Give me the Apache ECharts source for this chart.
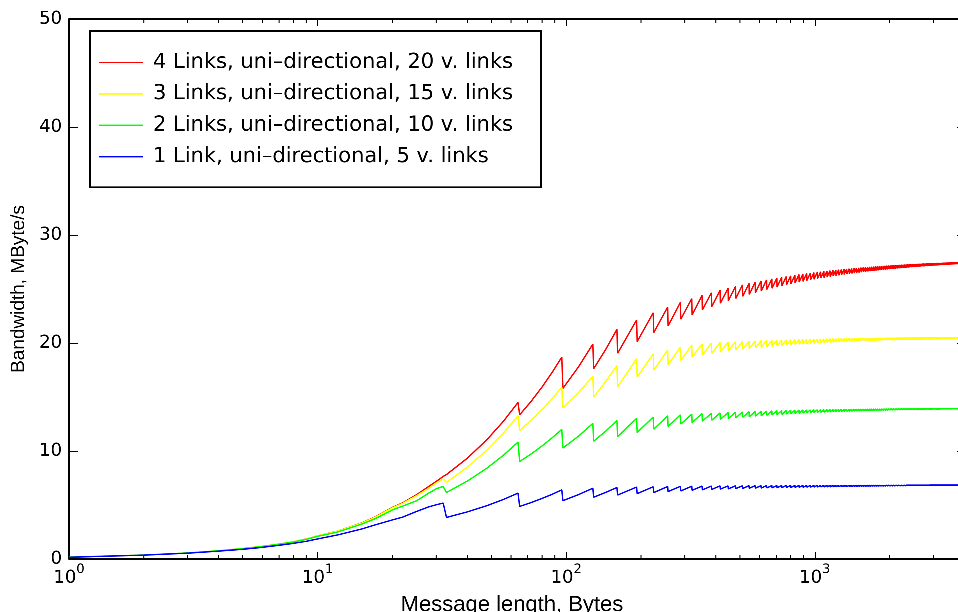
<!DOCTYPE html>
<html lang="en">
<head>
    <meta charset="UTF-8">
    <title>Bandwidth vs message length</title>
    <script type="text/javascript">
        // zrender drops line segments shorter than 2 device pixels; a higher ratio keeps the fine sawtooth
        try { window.devicePixelRatio = 4; } catch (e) {}
    </script>
    <script type="text/javascript" src="https://cdn.jsdelivr.net/npm/echarts/dist/echarts.min.js"></script>
    <style>
        body { margin: 0; background: #fff; }
        #main { width: 958px; height: 612px; }
    </style>
</head>
<body>
<div id="main"></div>
<script type="text/javascript">
    var names = [
        '4 Links, uni\u2013directional, 20 v. links',
        '3 Links, uni\u2013directional, 15 v. links',
        '2 Links, uni\u2013directional, 10 v. links',
        '1 Link, uni\u2013directional, 5 v. links'
    ];
    var colors = ['#ff0000', '#ffff00', '#00ff00', '#0000ff'];

    // smooth part before the first packet boundary
    var earlyX = [1, 2, 3, 4, 5, 6, 7, 8, 9, 10, 12, 15, 17, 20, 22, 25, 28, 30];
    var earlyRed    = [0.17, 0.37, 0.56, 0.77, 0.97, 1.18, 1.39, 1.61, 1.85, 2.15, 2.57, 3.33, 3.88, 4.78, 5.20, 5.95, 6.72, 7.18];
    var earlyYellow = [0.17, 0.37, 0.56, 0.77, 0.97, 1.18, 1.39, 1.61, 1.84, 2.14, 2.56, 3.31, 3.85, 4.74, 5.15, 5.86, 6.56, 7.05];
    var earlyGreen  = [0.17, 0.37, 0.56, 0.76, 0.96, 1.16, 1.37, 1.58, 1.81, 2.10, 2.49, 3.22, 3.72, 4.55, 4.90, 5.39, 6.10, 6.50];
    var earlyBlue   = [0.16, 0.36, 0.54, 0.73, 0.90, 1.08, 1.27, 1.45, 1.64, 1.86, 2.22, 2.77, 3.15, 3.62, 3.88, 4.40, 4.83, 5.02];

    // points inside the first big teeth
    var midX = [40, 48, 56, 72, 80, 88, 112, 144];
    var midRed    = [9.33, 11.05, 12.77, 14.55, 15.93, 17.31, 17.78, 19.38];
    var midYellow = [8.49, 10.08, 11.67, 12.80, 13.84, 14.87, 15.40, 16.40];
    var midGreen  = [7.21, 8.41, 9.62, 9.70, 10.47, 11.24, 11.37, 11.83];
    var midBlue   = [4.36, 4.94, 5.52, 5.21, 5.61, 6.00, 5.96, 6.16];

    // packet boundaries: peak at x, drop at x + 1
    var toothX = [32, 64, 96, 128, 160, 192, 224, 256, 288, 320, 352, 384, 416, 448, 480, 512, 544, 576, 608, 640,
        672, 704, 736, 768, 800, 832, 864, 896, 928, 960, 992, 1024, 1056, 1088, 1120, 1152, 1184, 1216, 1248, 1280,
        1312, 1344, 1376, 1408, 1440, 1472, 1504, 1536, 1568, 1600, 1632, 1664, 1696, 1728, 1760, 1792, 1824, 1856, 1888, 1920,
        1952, 1984, 2016, 2048, 2080, 2112, 2144, 2176, 2208, 2240, 2272, 2304, 2336, 2368, 2400, 2432, 2464, 2496, 2528, 2560,
        2592, 2624, 2656, 2688, 2720, 2752, 2784, 2816, 2848, 2880, 2912, 2944, 2976, 3008, 3040, 3072, 3104, 3136, 3168, 3200,
        3232, 3264, 3296, 3328, 3360, 3392, 3424, 3456, 3488, 3520, 3552, 3584, 3616, 3648, 3680, 3712, 3744, 3776, 3808, 3840];

    var peakRed = [7.64, 14.49, 18.69, 19.90, 21.26, 22.13, 22.80, 23.33, 23.76, 24.11,
        24.41, 24.66, 24.88, 25.07, 25.24, 25.39, 25.52, 25.64, 25.75, 25.85,
        25.94, 26.02, 26.09, 26.16, 26.22, 26.28, 26.34, 26.39, 26.44, 26.48,
        26.52, 26.56, 26.60, 26.64, 26.67, 26.70, 26.73, 26.76, 26.79, 26.81,
        26.84, 26.86, 26.88, 26.90, 26.92, 26.94, 26.96, 26.98, 27.00, 27.01,
        27.03, 27.05, 27.06, 27.07, 27.09, 27.10, 27.11, 27.13, 27.14, 27.15,
        27.16, 27.17, 27.18, 27.19, 27.20, 27.21, 27.22, 27.23, 27.24, 27.25,
        27.25, 27.26, 27.27, 27.28, 27.29, 27.29, 27.30, 27.31, 27.31, 27.32,
        27.33, 27.33, 27.34, 27.34, 27.35, 27.36, 27.36, 27.37, 27.37, 27.38,
        27.38, 27.39, 27.39, 27.40, 27.40, 27.41, 27.41, 27.42, 27.42, 27.42,
        27.43, 27.43, 27.44, 27.44, 27.44, 27.45, 27.45, 27.45, 27.46, 27.46,
        27.46, 27.47, 27.47, 27.47, 27.48, 27.48, 27.48, 27.49, 27.49, 27.49];
    var dropRed = [7.82, 13.35, 15.80, 17.62, 19.05, 20.13, 20.96, 21.58, 22.20, 22.60,
        23.06, 23.37, 23.68, 23.92, 24.12, 24.32, 24.50, 24.66, 24.81, 24.95,
        25.07, 25.18, 25.29, 25.38, 25.47, 25.56, 25.64, 25.71, 25.78, 25.84,
        25.90, 25.96, 26.01, 26.06, 26.11, 26.15, 26.20, 26.24, 26.27, 26.31,
        26.35, 26.38, 26.41, 26.44, 26.47, 26.50, 26.53, 26.56, 26.58, 26.61,
        26.63, 26.65, 26.67, 26.69, 26.71, 26.73, 26.75, 26.77, 26.79, 26.80,
        26.82, 26.84, 26.85, 26.87, 26.88, 26.89, 26.91, 26.92, 26.93, 26.95,
        26.96, 26.97, 26.98, 26.99, 27.01, 27.02, 27.03, 27.04, 27.05, 27.06,
        27.07, 27.08, 27.09, 27.10, 27.10, 27.11, 27.12, 27.13, 27.14, 27.14,
        27.15, 27.16, 27.17, 27.17, 27.18, 27.19, 27.19, 27.20, 27.21, 27.21,
        27.22, 27.22, 27.23, 27.23, 27.24, 27.25, 27.25, 27.26, 27.26, 27.27,
        27.27, 27.28, 27.28, 27.29, 27.29, 27.30, 27.30, 27.30, 27.31, 27.31];

    var peakYellow = [7.40, 13.26, 15.90, 16.90, 17.90, 18.55, 19.00, 19.35, 19.62, 19.82,
        19.92, 20.00, 20.05, 20.09, 20.12, 20.15, 20.17, 20.20, 20.22, 20.23,
        20.25, 20.27, 20.28, 20.29, 20.31, 20.32, 20.33, 20.34, 20.35, 20.35,
        20.36, 20.37, 20.38, 20.38, 20.39, 20.40, 20.40, 20.41, 20.41, 20.42,
        20.42, 20.43, 20.43, 20.44, 20.44, 20.44, 20.45, 20.45, 20.45, 20.46,
        20.46, 20.46, 20.46, 20.47, 20.47, 20.47, 20.47, 20.48, 20.48, 20.48,
        20.49, 20.49, 20.49, 20.49, 20.49, 20.49, 20.50, 20.50, 20.50, 20.50,
        20.50, 20.50, 20.51, 20.51, 20.51, 20.51, 20.51, 20.51, 20.51, 20.52,
        20.52, 20.52, 20.52, 20.52, 20.52, 20.52, 20.53, 20.53, 20.53, 20.53,
        20.53, 20.53, 20.53, 20.53, 20.53, 20.53, 20.53, 20.53, 20.53, 20.53,
        20.54, 20.54, 20.54, 20.54, 20.54, 20.54, 20.54, 20.54, 20.54, 20.54,
        20.55, 20.55, 20.55, 20.55, 20.55, 20.55, 20.55, 20.55, 20.55, 20.55];
    var dropYellow = [7.10, 11.90, 14.00, 15.00, 15.95, 16.84, 17.48, 17.98, 18.38, 18.69,
        18.88, 19.04, 19.16, 19.26, 19.34, 19.42, 19.48, 19.55, 19.60, 19.64,
        19.69, 19.73, 19.76, 19.79, 19.83, 19.86, 19.89, 19.91, 19.94, 19.95,
        19.97, 19.99, 20.01, 20.03, 20.05, 20.07, 20.07, 20.09, 20.10, 20.12,
        20.12, 20.14, 20.15, 20.16, 20.17, 20.18, 20.19, 20.20, 20.20, 20.21,
        20.21, 20.22, 20.22, 20.23, 20.23, 20.24, 20.24, 20.25, 20.25, 20.26,
        20.26, 20.26, 20.27, 20.27, 20.27, 20.28, 20.28, 20.28, 20.29, 20.29,
        20.29, 20.29, 20.30, 20.30, 20.30, 20.30, 20.31, 20.31, 20.31, 20.31,
        20.31, 20.32, 20.32, 20.32, 20.32, 20.32, 20.33, 20.33, 20.33, 20.33,
        20.33, 20.33, 20.33, 20.34, 20.34, 20.34, 20.34, 20.34, 20.34, 20.34,
        20.35, 20.35, 20.35, 20.35, 20.35, 20.35, 20.35, 20.35, 20.35, 20.35,
        20.36, 20.36, 20.36, 20.36, 20.36, 20.36, 20.36, 20.36, 20.36, 20.36];

    var peakGreen = [6.72, 10.82, 12.00, 12.55, 12.82, 13.02, 13.15, 13.26, 13.35, 13.41,
        13.46, 13.50, 13.53, 13.56, 13.59, 13.62, 13.64, 13.66, 13.68, 13.70,
        13.72, 13.73, 13.74, 13.75, 13.77, 13.78, 13.79, 13.80, 13.80, 13.81,
        13.82, 13.82, 13.83, 13.83, 13.84, 13.84, 13.85, 13.85, 13.86, 13.86,
        13.86, 13.87, 13.87, 13.87, 13.88, 13.88, 13.88, 13.88, 13.89, 13.89,
        13.89, 13.89, 13.90, 13.90, 13.90, 13.90, 13.90, 13.91, 13.91, 13.91,
        13.91, 13.91, 13.92, 13.92, 13.92, 13.92, 13.92, 13.92, 13.93, 13.93,
        13.93, 13.93, 13.93, 13.93, 13.93, 13.93, 13.93, 13.93, 13.93, 13.93,
        13.94, 13.94, 13.94, 13.94, 13.94, 13.94, 13.94, 13.94, 13.94, 13.94,
        13.94, 13.94, 13.94, 13.94, 13.94, 13.94, 13.94, 13.94, 13.94, 13.94,
        13.95, 13.95, 13.95, 13.95, 13.95, 13.95, 13.95, 13.95, 13.95, 13.95,
        13.95, 13.95, 13.95, 13.95, 13.95, 13.95, 13.95, 13.95, 13.95, 13.95];
    var dropGreen = [6.16, 9.03, 10.27, 10.90, 11.34, 11.71, 12.02, 12.27, 12.49, 12.64,
        12.76, 12.85, 12.93, 13.00, 13.06, 13.12, 13.17, 13.22, 13.26, 13.30,
        13.34, 13.36, 13.39, 13.41, 13.45, 13.47, 13.49, 13.51, 13.52, 13.54,
        13.56, 13.56, 13.58, 13.59, 13.61, 13.61, 13.63, 13.63, 13.65, 13.65,
        13.66, 13.67, 13.68, 13.68, 13.70, 13.70, 13.70, 13.71, 13.72, 13.72,
        13.73, 13.73, 13.74, 13.74, 13.75, 13.75, 13.75, 13.76, 13.77, 13.77,
        13.77, 13.78, 13.79, 13.79, 13.79, 13.79, 13.80, 13.80, 13.81, 13.81,
        13.81, 13.81, 13.82, 13.82, 13.82, 13.82, 13.82, 13.82, 13.83, 13.83,
        13.84, 13.84, 13.84, 13.84, 13.84, 13.85, 13.85, 13.85, 13.85, 13.85,
        13.85, 13.85, 13.85, 13.86, 13.86, 13.86, 13.86, 13.86, 13.86, 13.86,
        13.87, 13.87, 13.87, 13.87, 13.87, 13.87, 13.87, 13.87, 13.87, 13.87,
        13.88, 13.88, 13.88, 13.88, 13.88, 13.88, 13.88, 13.88, 13.88, 13.88];

    var peakBlue = [5.18, 6.10, 6.40, 6.55, 6.62, 6.66, 6.69, 6.71, 6.73, 6.74,
        6.75, 6.76, 6.77, 6.77, 6.78, 6.78, 6.79, 6.79, 6.79, 6.80,
        6.80, 6.80, 6.80, 6.81, 6.81, 6.81, 6.81, 6.81, 6.81, 6.81,
        6.82, 6.82, 6.82, 6.82, 6.82, 6.82, 6.82, 6.82, 6.82, 6.82,
        6.82, 6.82, 6.82, 6.82, 6.82, 6.83, 6.83, 6.83, 6.83, 6.83,
        6.83, 6.83, 6.83, 6.83, 6.83, 6.83, 6.83, 6.83, 6.83, 6.83,
        6.84, 6.84, 6.84, 6.84, 6.84, 6.84, 6.84, 6.84, 6.84, 6.84,
        6.84, 6.84, 6.84, 6.84, 6.84, 6.84, 6.84, 6.84, 6.84, 6.84,
        6.84, 6.84, 6.84, 6.84, 6.84, 6.84, 6.84, 6.84, 6.84, 6.84,
        6.85, 6.85, 6.85, 6.85, 6.85, 6.85, 6.85, 6.85, 6.85, 6.85,
        6.85, 6.85, 6.85, 6.85, 6.85, 6.85, 6.85, 6.85, 6.85, 6.85,
        6.85, 6.85, 6.85, 6.85, 6.85, 6.85, 6.85, 6.85, 6.85, 6.85];
    var dropBlue = [3.85, 4.87, 5.40, 5.72, 5.92, 6.05, 6.15, 6.24, 6.30, 6.36,
        6.40, 6.44, 6.47, 6.49, 6.52, 6.53, 6.55, 6.56, 6.57, 6.58,
        6.59, 6.60, 6.61, 6.62, 6.62, 6.63, 6.64, 6.64, 6.65, 6.65,
        6.66, 6.66, 6.67, 6.67, 6.68, 6.68, 6.69, 6.69, 6.69, 6.70,
        6.70, 6.70, 6.71, 6.71, 6.71, 6.72, 6.72, 6.72, 6.73, 6.73,
        6.73, 6.73, 6.74, 6.74, 6.74, 6.74, 6.75, 6.75, 6.75, 6.75,
        6.76, 6.76, 6.76, 6.76, 6.76, 6.77, 6.77, 6.77, 6.77, 6.77,
        6.77, 6.77, 6.78, 6.78, 6.78, 6.78, 6.78, 6.78, 6.78, 6.78,
        6.79, 6.79, 6.79, 6.79, 6.79, 6.79, 6.79, 6.79, 6.79, 6.79,
        6.80, 6.80, 6.80, 6.80, 6.80, 6.80, 6.80, 6.80, 6.80, 6.80,
        6.81, 6.81, 6.81, 6.81, 6.81, 6.81, 6.81, 6.81, 6.81, 6.81,
        6.81, 6.81, 6.81, 6.81, 6.81, 6.81, 6.81, 6.81, 6.81, 6.81];

    var minorTicks = [2, 3, 4, 5, 6, 7, 8, 9, 20, 30, 40, 50, 60, 70, 80, 90,
        200, 300, 400, 500, 600, 700, 800, 900, 2000, 3000, 4000];

    function buildLine(early, mid, peaks, drops) {
        var pts = [];
        earlyX.forEach(function (x, i) { pts.push([x, early[i]]); });
        midX.forEach(function (x, i) { pts.push([x, mid[i]]); });
        toothX.forEach(function (x, i) {
            pts.push([x, peaks[i]]);
            pts.push([x + 1, drops[i]]);
        });
        return pts.sort(function (a, b) { return a[0] - b[0]; });
    }

    var lines = [
        buildLine(earlyRed, midRed, peakRed, dropRed),
        buildLine(earlyYellow, midYellow, peakYellow, dropYellow),
        buildLine(earlyGreen, midGreen, peakGreen, dropGreen),
        buildLine(earlyBlue, midBlue, peakBlue, dropBlue)
    ];

    var axisColor = '#000';
    var tickFont = 'DejaVu Sans';

    var series = lines.map(function (d, i) {
        return {
            name: names[i],
            type: 'line',
            data: d,
            showSymbol: false,
            symbol: 'none',
            color: colors[i],
            itemStyle: {color: colors[i]},
            lineStyle: {color: colors[i], width: 1.4},
            animation: false
        };
    });

    // minor ticks of the log axis, on the bottom and top edges
    series.push({
        type: 'custom',
        silent: true,
        animation: false,
        data: minorTicks.map(function (v) { return [v, 0]; }),
        renderItem: function (params, api) {
            var b = api.coord([api.value(0), 0]);
            var t = api.coord([api.value(0), 50]);
            var st = {stroke: axisColor, lineWidth: 1};
            return {
                type: 'group',
                children: [
                    {type: 'line', shape: {x1: b[0], y1: b[1], x2: b[0], y2: b[1] - 4}, style: st},
                    {type: 'line', shape: {x1: t[0], y1: t[1], x2: t[0], y2: t[1] + 4}, style: st}
                ]
            };
        }
    });

    var myChart = echarts.init(document.getElementById('main'), null, {renderer: 'canvas', devicePixelRatio: 4});
    var option = {
        animation: false,
        backgroundColor: '#fff',
        grid: {left: 69, top: 19, width: 898, height: 540, outerBoundsMode: 'none', containLabel: false},
        legend: {
            data: names,
            orient: 'vertical',
            left: 90,
            top: 31,
            icon: 'rect',
            itemWidth: 44,
            itemHeight: 1.5,
            itemGap: 10.4,
            padding: [21, 28, 20, 9],
            borderColor: '#000',
            borderWidth: 1.5,
            borderRadius: 0,
            backgroundColor: '#fff',
            selectedMode: false,
            textStyle: {fontFamily: tickFont, fontSize: 21, color: '#000', lineHeight: 20, padding: [0, 0, 0, 5]}
        },
        xAxis: [
            {
                type: 'log',
                logBase: 10,
                min: 1,
                max: 4096,
                name: 'Message length, Bytes',
                nameLocation: 'middle',
                nameGap: 35,
                nameTextStyle: {fontFamily: 'Liberation Sans', fontSize: 22, color: '#000', padding: [0, 12, 0, 0]},
                axisLine: {onZero: false, lineStyle: {color: axisColor, width: 1.5}},
                axisTick: {inside: true, length: 7, lineStyle: {color: axisColor, width: 1}},
                splitLine: {show: false},
                axisLabel: {
                    margin: 4,
                    showMaxLabel: false,
                    color: '#000',
                    fontFamily: tickFont,
                    formatter: function (v) {
                        var e = Math.round(Math.log(v) / Math.LN10);
                        if (Math.abs(Math.pow(10, e) - v) > 1e-6) return '';
                        return '{b|10}{s|' + e + '}';
                    },
                    rich: {
                        b: {fontFamily: tickFont, fontSize: 18, color: '#000', lineHeight: 24, verticalAlign: 'bottom'},
                        s: {fontFamily: tickFont, fontSize: 13, color: '#000', lineHeight: 14, verticalAlign: 'top'}
                    }
                }
            },
            {
                type: 'log',
                logBase: 10,
                min: 1,
                max: 4096,
                position: 'top',
                axisLine: {show: true, onZero: false, lineStyle: {color: axisColor, width: 1.5}},
                axisTick: {show: true, inside: true, length: 7, lineStyle: {color: axisColor, width: 1}},
                axisLabel: {show: false},
                splitLine: {show: false}
            }
        ],
        yAxis: [
            {
                type: 'value',
                min: 0,
                max: 50,
                interval: 10,
                name: 'Bandwidth, MByte/s',
                nameLocation: 'middle',
                nameGap: 39,
                nameTextStyle: {fontFamily: 'Liberation Sans', fontSize: 19, color: '#000'},
                axisLine: {show: true, onZero: false, lineStyle: {color: axisColor, width: 1.5}},
                axisTick: {show: true, inside: true, length: 9, lineStyle: {color: axisColor, width: 1}},
                axisLabel: {margin: 7, color: '#000', fontFamily: tickFont, fontSize: 18},
                splitLine: {show: false}
            },
            {
                type: 'value',
                min: 0,
                max: 50,
                interval: 10,
                position: 'right',
                axisLine: {show: true, onZero: false, lineStyle: {color: axisColor, width: 1.5}},
                axisTick: {show: true, inside: true, length: 10, lineStyle: {color: axisColor, width: 1}},
                axisLabel: {show: false},
                splitLine: {show: false}
            }
        ],
        series: series
    };
    myChart.setOption(option);
</script>
</body>
</html>
